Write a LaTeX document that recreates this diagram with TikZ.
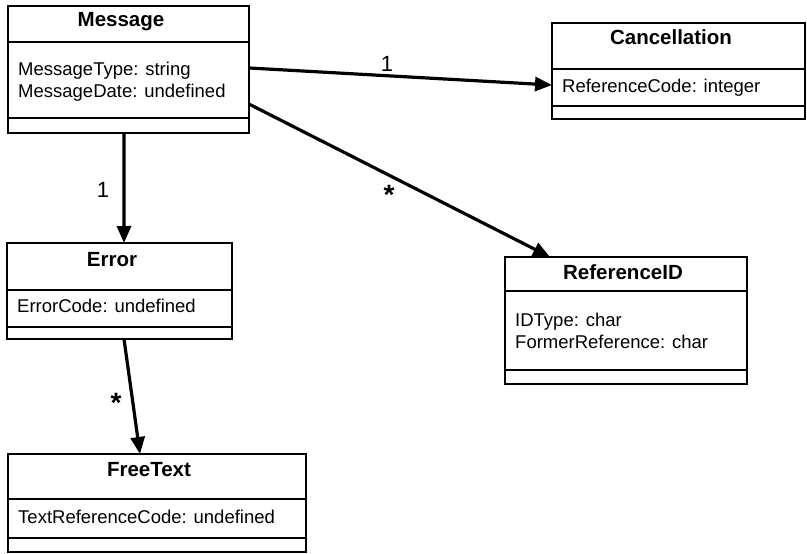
\documentclass[tikz,border=0pt]{standalone}
\usepackage{fontspec}
\setmainfont{Liberation Sans}
\usetikzlibrary{arrows.meta,calc}
\tikzset{
  classbox/.style={draw=black, line width=2.2pt, inner sep=0pt, outer sep=0pt, anchor=north west, fill=none},
  divider/.style={draw=black, line width=2.2pt},
  titletext/.style={inner sep=0pt, anchor=base, font=\fontsize{20.5}{24}\selectfont\bfseries},
  attrtext/.style={inner sep=0pt, anchor=base west, align=left, font=\fontsize{18.5}{21.5}\selectfont},
  onetext/.style={inner sep=0pt, anchor=base, font=\fontsize{22}{26}\selectfont},
  startext/.style={inner sep=0pt, anchor=base, font=\fontsize{28}{32}\selectfont\bfseries},
  assoc/.style={draw=black, line width=3.2pt, -{Triangle[length=17pt,width=14pt]}}
}
\begin{document}
\begin{tikzpicture}[x=1pt,y=-1pt]
\useasboundingbox (0,0) rectangle (807,554);
% Message
\node[classbox, minimum width=241pt, minimum height=127pt] (msg) at (8,6) {};
\draw[divider] (8,42) -- (249,42) (8,118) -- (249,118);
\node[titletext] (msgT) at (121,27) {Message};
\node[attrtext] (msgA) at (18,97) {MessageType: string\\MessageDate: undefined};
% Cancellation
\node[classbox, minimum width=253pt, minimum height=96pt] (can) at (552,23) {};
\draw[divider] (552,69) -- (805,69) (552,106) -- (805,106);
\node[titletext] (canT) at (671,44) {Cancellation};
\node[attrtext] (canA) at (562,92) {ReferenceCode: integer};
% ReferenceID
\node[classbox, minimum width=242pt, minimum height=127pt] (ref) at (505,257) {};
\draw[divider] (505,291) -- (747,291) (505,370) -- (747,370);
\node[titletext] (refT) at (623,279) {ReferenceID};
\node[attrtext] (refA) at (515,348) {IDType: char\\FormerReference: char};
% Error
\node[classbox, minimum width=225pt, minimum height=96pt] (err) at (7,243) {};
\draw[divider] (7,290) -- (232,290) (7,327) -- (232,327);
\node[titletext] (errT) at (112,266) {Error};
\node[attrtext] (errA) at (17,312) {ErrorCode: undefined};
% FreeText
\node[classbox, minimum width=298pt, minimum height=98pt] (fre) at (8,454) {};
\draw[divider] (8,499) -- (306,499) (8,538) -- (306,538);
\node[titletext] (freT) at (149,476) {FreeText};
\node[attrtext] (freA) at (18,523) {TextReferenceCode: undefined};
% Associations
\draw[assoc] ($(msg.north east)!0.488!(msg.south east)$) -- ($(can.north west)!0.646!(can.south west)$);
\draw[assoc] ($(msg.north east)!0.772!(msg.south east)$) -- ($(ref.north west)!0.186!(ref.north east)$);
\draw[assoc] ($(msg.south west)!0.481!(msg.south east)$) -- ($(err.north west)!0.52!(err.north east)$);
\draw[assoc] ($(err.south west)!0.52!(err.south east)$) -- ($(fre.north west)!0.443!(fre.north east)$);
% Multiplicities
\node[onetext] (m1) at (387,71) {1};
\node[startext] (m2) at (389,204) {*};
\node[onetext] (m3) at (103,197) {1};
\node[startext] (m4) at (116,412) {*};
\end{tikzpicture}
\end{document}
